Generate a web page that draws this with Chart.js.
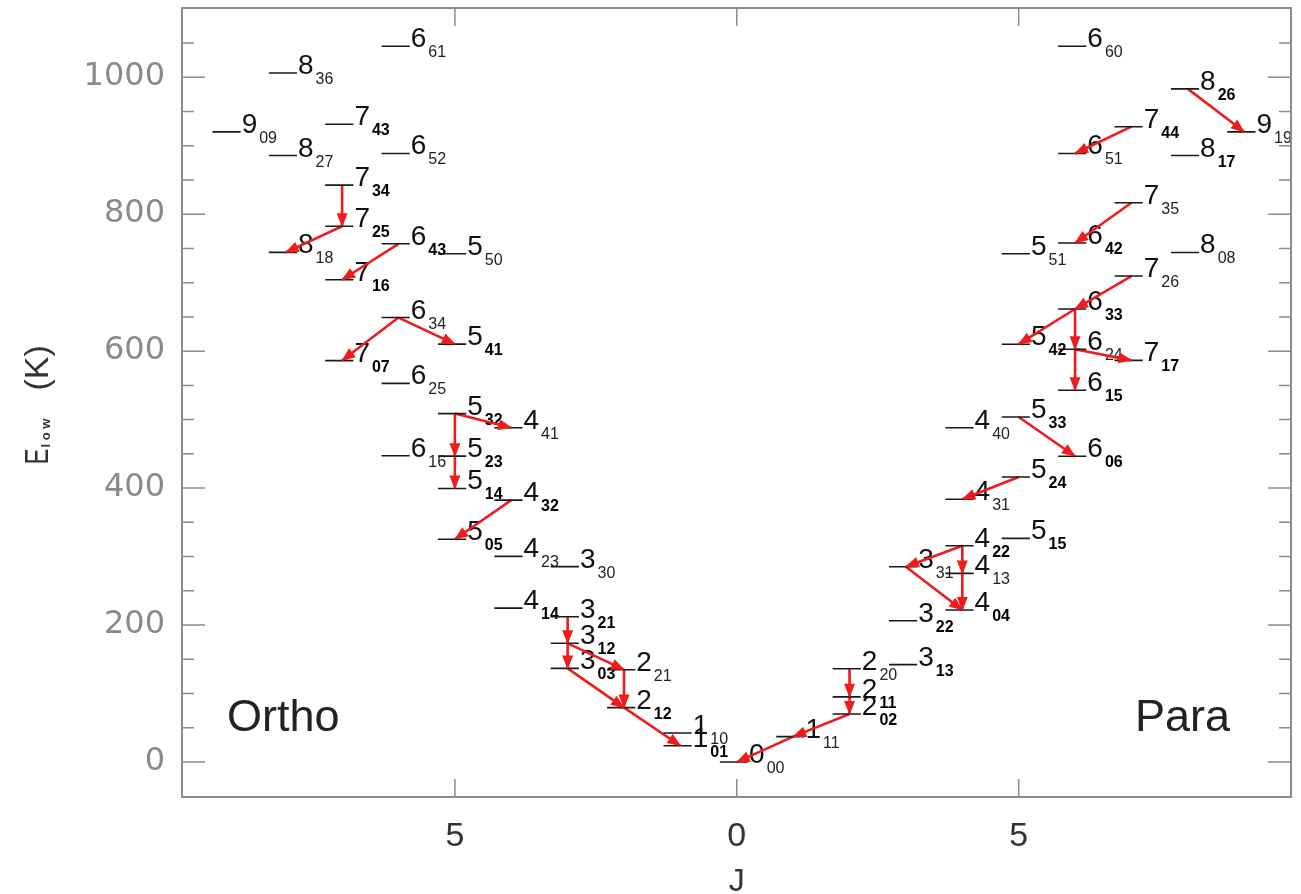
<!DOCTYPE html>
<html>
<head>
<meta charset="utf-8">
<script src="https://cdn.jsdelivr.net/npm/chart.js@4.4.1/dist/chart.umd.min.js"></script>
<style>
  body { margin: 0; background: #fff; }
  #wrap { position: relative; width: 1301px; height: 894px; }
</style>
</head>
<body>
<div id="wrap"><canvas id="myChart"></canvas></div>
<script>
// rotational levels J_KaKc and their lower-level energies
var orthoLevels = ['101','110','212','221','303','312','321','414','330','423','505','432','514','523','616','441','532','625','707','541','634','716','550','818','643','725','734','827','652','909','743','836','661'];
var orthoEnergy = [23.8, 42.4, 79.5, 134.9, 136.8, 173.4, 212.2, 224.8, 285.4, 300.4, 325.3, 382.5, 399.5, 446.7, 447.3, 488.1, 508.8, 552.9, 586.2, 610.3, 649.0, 704.2, 742.1, 744.2, 756.7, 782.4, 842.4, 885.6, 888.6, 920.2, 931.2, 1006.1, 1045.1];

var paraLevels = ['000','111','202','211','220','313','322','404','413','331','422','515','431','524','606','440','533','615','717','624','542','633','726','551','808','642','735','817','651','919','744','826','660'];
var paraEnergy = [0, 37.1, 70.1, 95.2, 136.2, 142.3, 206.3, 222.1, 275.5, 285.2, 315.8, 326.6, 383.8, 416.2, 446.5, 488.1, 503.9, 542.9, 586.5, 602.8, 610.1, 661.5, 709.6, 742.1, 744.1, 757.8, 816.7, 885.6, 888.6, 920.2, 927.7, 982.9, 1045.1];

// transitions (upper -> lower)
var orthoUpper = ['734','725','643','634','634','532','532','523','432','321','312','312','221','303','212'];
var orthoLower = ['725','818','716','707','541','441','523','514','505','312','303','221','212','212','101'];
var paraUpper = ['202','111','220','211','422','331','422','413','524','533','633','624','633','726','624','735','744','826'];
var paraLower = ['111','000','211','202','331','404','413','404','431','606','624','615','542','633','717','642','651','919'];

var xTicks = [-5, 0, 5];
var yTicks = [0, 200, 400, 600, 800, 1000];

// labels drawn with a heavier subscript
var boldLabels = ['743','734','725','643','716','707','541','532','523','514','432','505','414','321','312','303','212','101',
                  '211','202','313','322','404','422','515','524','533','606','615','717','542','633','642','744','817','826'];

function levelX(name, side) {
  return side * parseInt(name.charAt(0), 10);
}

function levelPoints(names, energy, side) {
  var pts = [];
  for (var i = 0; i < names.length; i++) {
    var x = levelX(names[i], side);
    pts.push({x: x - 0.3, y: energy[i]});
    pts.push({x: x + 0.2, y: energy[i]});
    pts.push({x: x + 0.2, y: null});
  }
  return pts;
}

function transPoints(upper, lower, names, energy, side) {
  var pts = [];
  for (var i = 0; i < upper.length; i++) {
    var a = names.indexOf(upper[i]), b = names.indexOf(lower[i]);
    pts.push({x: levelX(upper[i], side), y: energy[a]});
    pts.push({x: levelX(lower[i], side), y: energy[b]});
    pts.push({x: levelX(lower[i], side), y: null});
  }
  return pts;
}

var levelData = levelPoints(orthoLevels, orthoEnergy, -1).concat(levelPoints(paraLevels, paraEnergy, 1));
var transData = transPoints(orthoUpper, orthoLower, orthoLevels, orthoEnergy, -1)
  .concat(transPoints(paraUpper, paraLower, paraLevels, paraEnergy, 1));

var redColor = 'rgb(238,28,28)';

var drawLabels = {
  id: 'drawLabels',
  beforeDatasetsDraw: function(chart) {
    var ctx = chart.ctx, xs = chart.scales.x, ys = chart.scales.y;
    ctx.save();
    ctx.textBaseline = 'alphabetic';
    ctx.textAlign = 'left';
    function put(names, energy, side) {
      for (var i = 0; i < names.length; i++) {
        var n = names[i];
        var px = xs.getPixelForValue(levelX(n, side) + 0.2) + 1;
        var py = ys.getPixelForValue(energy[i]);
        ctx.fillStyle = '#111';
        ctx.font = '28px "Liberation Sans", Arial, sans-serif';
        ctx.fillText(n.charAt(0), px, py + 1);
        var w = ctx.measureText(n.charAt(0)).width;
        var bold = boldLabels.indexOf(n) >= 0;
        ctx.font = (bold ? 'bold ' : '') + '16px "Liberation Sans", Arial, sans-serif';
        ctx.fillStyle = bold ? '#000' : '#222';
        ctx.fillText(n.substring(1), px + w + 2, py + 11);
      }
    }
    put(orthoLevels, orthoEnergy, -1);
    put(paraLevels, paraEnergy, 1);
    ctx.restore();
  },
  afterDatasetsDraw: function(chart) {
    var ctx = chart.ctx;
    var meta = chart.getDatasetMeta(1);
    ctx.save();
    ctx.fillStyle = redColor;
    for (var i = 0; i + 1 < meta.data.length; i += 3) {
      var a = meta.data[i], b = meta.data[i + 1];
      var ang = Math.atan2(b.y - a.y, b.x - a.x);
      ctx.save();
      ctx.translate(b.x, b.y);
      ctx.rotate(ang);
      ctx.beginPath();
      ctx.moveTo(1, 0);
      ctx.lineTo(-13, -5.5);
      ctx.lineTo(-13, 5.5);
      ctx.closePath();
      ctx.fill();
      ctx.restore();
    }
    ctx.restore();
  },
  afterDraw: function(chart) {
    var ctx = chart.ctx, xs = chart.scales.x, ys = chart.scales.y;
    var area = chart.chartArea;
    ctx.save();
    // frame
    ctx.strokeStyle = '#8c8c8c';
    ctx.lineWidth = 2;
    ctx.strokeRect(area.left, area.top, area.right - area.left, area.bottom - area.top);
    // y ticks, minor every 50
    ctx.lineWidth = 1.5;
    ctx.beginPath();
    for (var v = 0; v <= 1050; v += 50) {
      var y = ys.getPixelForValue(v);
      var len = (v % 200 === 0) ? 23 : 12;
      ctx.moveTo(area.left, y); ctx.lineTo(area.left + len, y);
      ctx.moveTo(area.right, y); ctx.lineTo(area.right - len, y);
    }
    xTicks.forEach(function(t) {
      var x = xs.getPixelForValue(t);
      ctx.moveTo(x, area.bottom); ctx.lineTo(x, area.bottom - 18);
      ctx.moveTo(x, area.top); ctx.lineTo(x, area.top + 18);
    });
    ctx.stroke();

    // side labels
    ctx.fillStyle = '#222';
    ctx.font = '45px "Liberation Sans", Arial, sans-serif';
    ctx.textBaseline = 'alphabetic';
    ctx.textAlign = 'left';
    ctx.fillText('Ortho', area.left + 45, 731);
    ctx.fillText('Para', area.right - 156, 731);

    // x title
    ctx.fillStyle = '#333';
    ctx.font = '32px "Liberation Sans", Arial, sans-serif';
    ctx.textAlign = 'center';
    ctx.fillText('J', xs.getPixelForValue(0), 891);

    // y title, rotated
    ctx.save();
    ctx.translate(48, (area.top + area.bottom) / 2 + 62);
    ctx.rotate(-Math.PI / 2);
    ctx.textAlign = 'left';
    ctx.fillStyle = '#333';
    ctx.font = '34px "Liberation Sans", Arial, sans-serif';
    ctx.save(); ctx.scale(0.7, 1); ctx.fillText('E', 0, 0); ctx.restore();
    ctx.font = 'bold 13px "Liberation Sans", Arial, sans-serif';
    ctx.fillText('l o w', 17, 2);
    ctx.font = '34px "Liberation Sans", Arial, sans-serif';
    ctx.fillText('(K)', 74, 0);
    ctx.restore();

    ctx.restore();
  }
};

var config = {
  type: 'scatter',
  data: {
    datasets: [{
      label: 'levels',
      data: levelData,
      showLine: true,
      spanGaps: false,
      borderColor: '#1a1a1a',
      borderWidth: 1.6,
      pointRadius: 0
    }, {
      label: 'transitions',
      data: transData,
      showLine: true,
      spanGaps: false,
      borderColor: redColor,
      borderWidth: 2.6,
      pointRadius: 0
    }]
  },
  options: {
    responsive: true,
    maintainAspectRatio: false,
    animation: false,
    layout: { padding: { top: 8, right: 10, left: 0, bottom: 0 } },
    plugins: {
      legend: { display: false },
      tooltip: { enabled: false }
    },
    scales: {
      x: {
        type: 'linear',
        min: -9.84,
        max: 9.83,
        grid: { display: false, drawTicks: false },
        border: { display: false },
        afterBuildTicks: function(s) { s.ticks = xTicks.map(function(v) { return {value: v}; }); },
        afterFit: function(s) { s.height = 97; s.paddingLeft = 0; s.paddingRight = 0; },
        ticks: {
          includeBounds: false,
          padding: 19,
          color: '#333',
          font: { family: '"Liberation Sans", Arial, sans-serif', size: 34 },
          callback: function(v) { return String(Math.abs(v)); }
        }
      },
      y: {
        type: 'linear',
        min: -51,
        max: 1101,
        grid: { display: false, drawTicks: false },
        border: { display: false },
        afterBuildTicks: function(s) { s.ticks = yTicks.map(function(v) { return {value: v}; }); },
        afterFit: function(s) { s.width = 182; s.paddingTop = 0; s.paddingBottom = 0; },
        ticks: {
          includeBounds: false,
          padding: 17,
          color: '#8a8a8a',
          font: { family: '"DejaVu Sans", sans-serif', size: 32 },
          callback: function(v) { return String(v); }
        }
      }
    }
  },
  plugins: [drawLabels]
};

var ctx = document.getElementById('myChart');
var myChart = new Chart(ctx, config);
</script>
</body>
</html>
